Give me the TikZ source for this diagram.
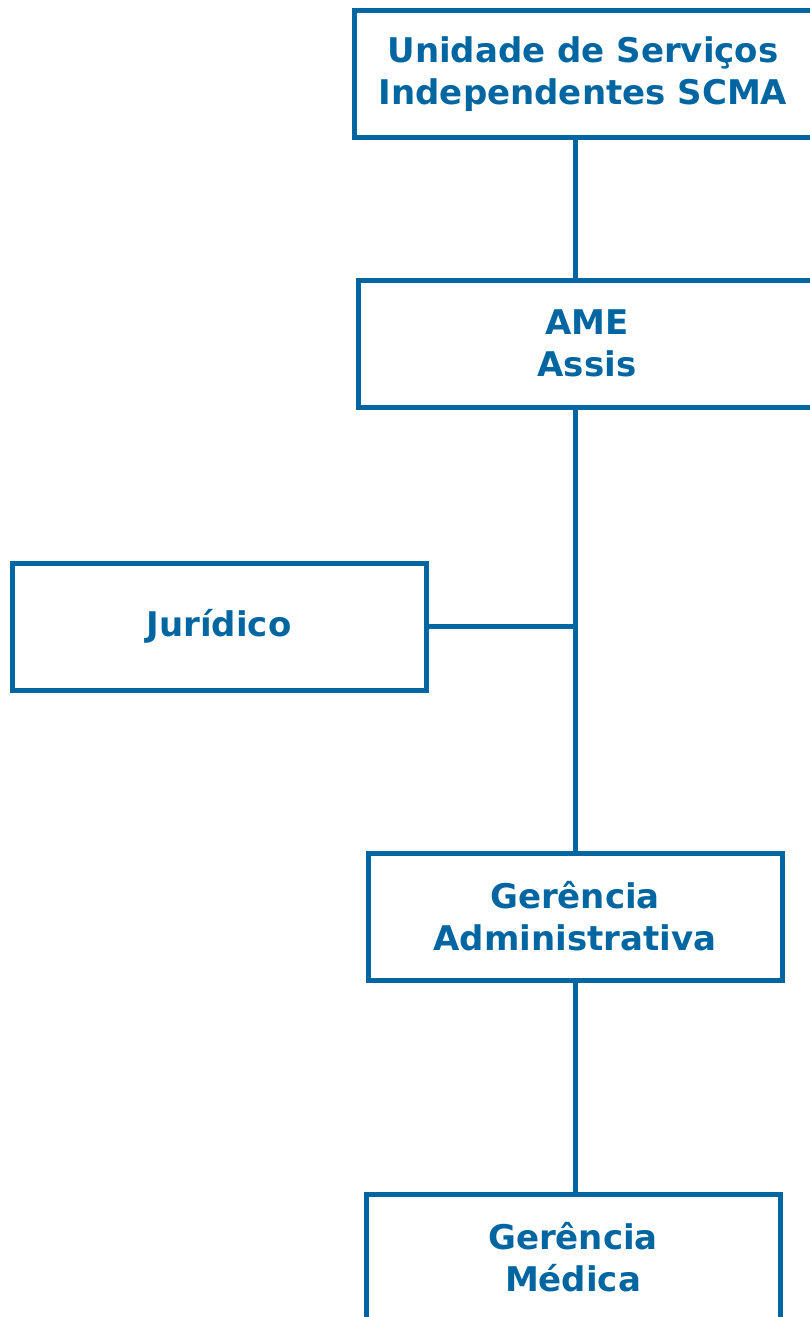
\documentclass[tikz,border=0pt]{standalone}
\usepackage{fontspec}
\setmainfont{DejaVu Sans}
\usetikzlibrary{positioning}
\definecolor{orgblue}{RGB}{0,102,161}
\begin{document}
\begin{tikzpicture}[
  x=0.5pt, y=-0.5pt,
  every node/.style={
    draw=orgblue,
    line width=2.5pt,
    align=center,
    text=orgblue,
    font=\fontsize{17}{21}\selectfont\bfseries,
    minimum width=207pt,
    minimum height=63.5pt,
    inner sep=0pt
  },
  wide/.style={minimum width=229pt},
  link/.style={draw=orgblue, line width=2.5pt}
]
\useasboundingbox (0,0) rectangle (809,1317);
\node[wide] (unidade) at (583,74) {Unidade de Serviços\\Independentes SCMA};
\node[wide] (ame) at (587,343.5) {AME\\Assis};
\node (juridico) at (219,626.5) {Jurídico};
\node (gadm) at (575,916.5) {Gerência\\Administrativa};
\node (gmed) at (573,1257.5) {Gerência\\Médica};
\draw[link] (unidade.south -| gadm) -- (ame.north -| gadm);
\draw[link] (ame.south -| gadm) -- (gadm.north);
\draw[link] (juridico.east) -- (juridico.east -| gadm);
\draw[link] (gadm.south) -- (gmed.north -| gadm);
\end{tikzpicture}
\end{document}
